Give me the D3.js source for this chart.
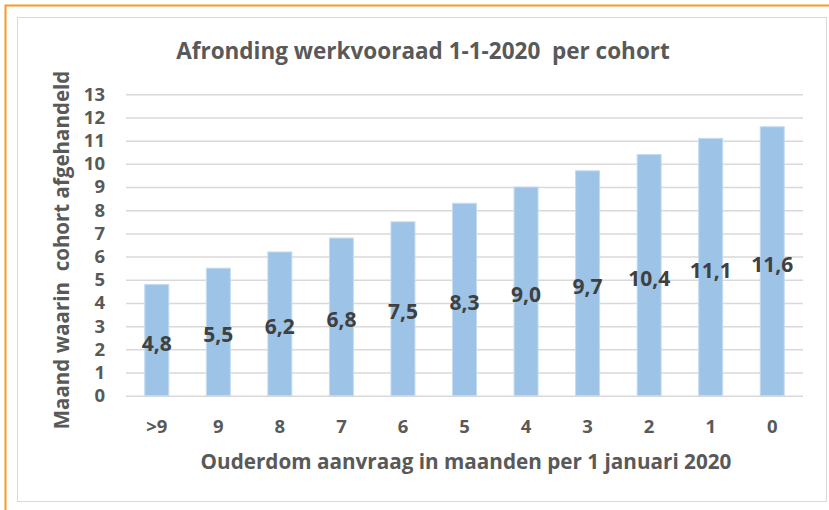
<!DOCTYPE html>
<html>
<head>
<meta charset="utf-8">
<script src="https://cdn.jsdelivr.net/npm/d3@7"></script>
<style>
  body { margin: 0; background: #fff; }
  svg { font-family: "Open Sans", Lato, sans-serif; font-weight: bold; }
  text { white-space: pre; }
</style>
</head>
<body>
<svg id="chart"></svg>
<script>
var width = 829;
var height = 510;

// cohort (age in months) and month of completion
var categories = [">9", "9", "8", "7", "6", "5", "4", "3", "2", "1", "0"];
var values = [4.8, 5.5, 6.2, 6.8, 7.5, 8.3, 9.0, 9.7, 10.4, 11.1, 11.6];
var yTicks = d3.range(0, 14);

var plot = { left: 126, right: 803, top: 94.3, bottom: 395.7 };

var svg = d3.select("#chart")
  .attr("width", width)
  .attr("height", height);

// outer orange frame and inner chart frame
svg.append("rect")
  .attr("x", 5.5).attr("y", 5.5)
  .attr("width", width + 10).attr("height", height + 10)
  .attr("fill", "none")
  .attr("stroke", "#f59a23")
  .attr("stroke-width", 2);

svg.append("rect")
  .attr("x", 17.5).attr("y", 17.5)
  .attr("width", 809).attr("height", 484)
  .attr("fill", "#fff")
  .attr("stroke", "#d9d9d9")
  .attr("stroke-width", 1);

var xScale = d3.scaleBand()
  .domain(categories)
  .range([plot.left, plot.right])
  .paddingInner(0.61)
  .paddingOuter(0.305);

var yScale = d3.scaleLinear()
  .domain([0, 13])
  .range([plot.bottom, plot.top]);

// gridlines + y labels
var yAxis = d3.axisLeft(yScale)
  .tickValues(yTicks)
  .tickSize(-(plot.right - plot.left))
  .tickPadding(21)
  .tickFormat(d3.format("d"));

var gy = svg.append("g")
  .attr("transform", `translate(${plot.left}, 0)`)
  .call(yAxis);
gy.select(".domain").remove();
gy.selectAll(".tick line").attr("stroke", "#d9d9d9").attr("stroke-width", 1.5);
gy.selectAll(".tick text")
  .attr("fill", "#595959")
  .style("font-size", "18.5px")
  .style("font-family", "'Open Sans', sans-serif")
  .style("font-weight", "bold");

// x labels
var xAxis = d3.axisBottom(xScale).tickSize(0).tickPadding(24);
var gx = svg.append("g")
  .attr("transform", `translate(0, ${plot.bottom})`)
  .call(xAxis);
gx.select(".domain").remove();
gx.selectAll(".tick text")
  .attr("fill", "#595959")
  .style("font-size", "18.5px")
  .style("font-family", "'Open Sans', sans-serif")
  .style("font-weight", "bold");

// bars
svg.selectAll(".bar")
  .data(values)
  .enter()
  .append("rect")
  .attr("class", "bar")
  .attr("x", (d, i) => xScale(categories[i]))
  .attr("y", (d) => yScale(d))
  .attr("width", xScale.bandwidth())
  .attr("height", (d) => yScale(0) - yScale(d))
  .attr("fill", "#9dc3e6")
  .attr("stroke", "#c5dcf0")
  .attr("stroke-width", 1);

// value labels, centred in the bar
svg.selectAll(".val")
  .data(values)
  .enter()
  .append("text")
  .attr("class", "val")
  .attr("x", (d, i) => xScale(categories[i]) + xScale.bandwidth() / 2)
  .attr("y", (d) => yScale(d / 2))
  .attr("dy", "0.5em")
  .style("text-anchor", "middle")
  .style("font-size", "21px")
  .attr("fill", "#404040")
  .text((d) => d3.format(".1f")(d).replace(".", ","));

// title
svg.append("text")
  .attr("x", 423)
  .attr("y", 59)
  .style("text-anchor", "middle")
  .style("font-size", "22.5px")
  .attr("fill", "#595959")
  .text("Afronding werkvooraad 1-1-2020  per cohort");

// x axis title
svg.append("text")
  .attr("x", 466)
  .attr("y", 469)
  .style("text-anchor", "middle")
  .style("font-size", "20.7px")
  .attr("fill", "#595959")
  .text("Ouderdom aanvraag in maanden per 1 januari 2020");

// y axis title
svg.append("text")
  .attr("transform", "rotate(-90)")
  .attr("x", -250)
  .attr("y", 69)
  .style("text-anchor", "middle")
  .style("font-size", "20.5px")
  .attr("fill", "#595959")
  .text("Maand waarin  cohort afgehandeld");
</script>
</body>
</html>
